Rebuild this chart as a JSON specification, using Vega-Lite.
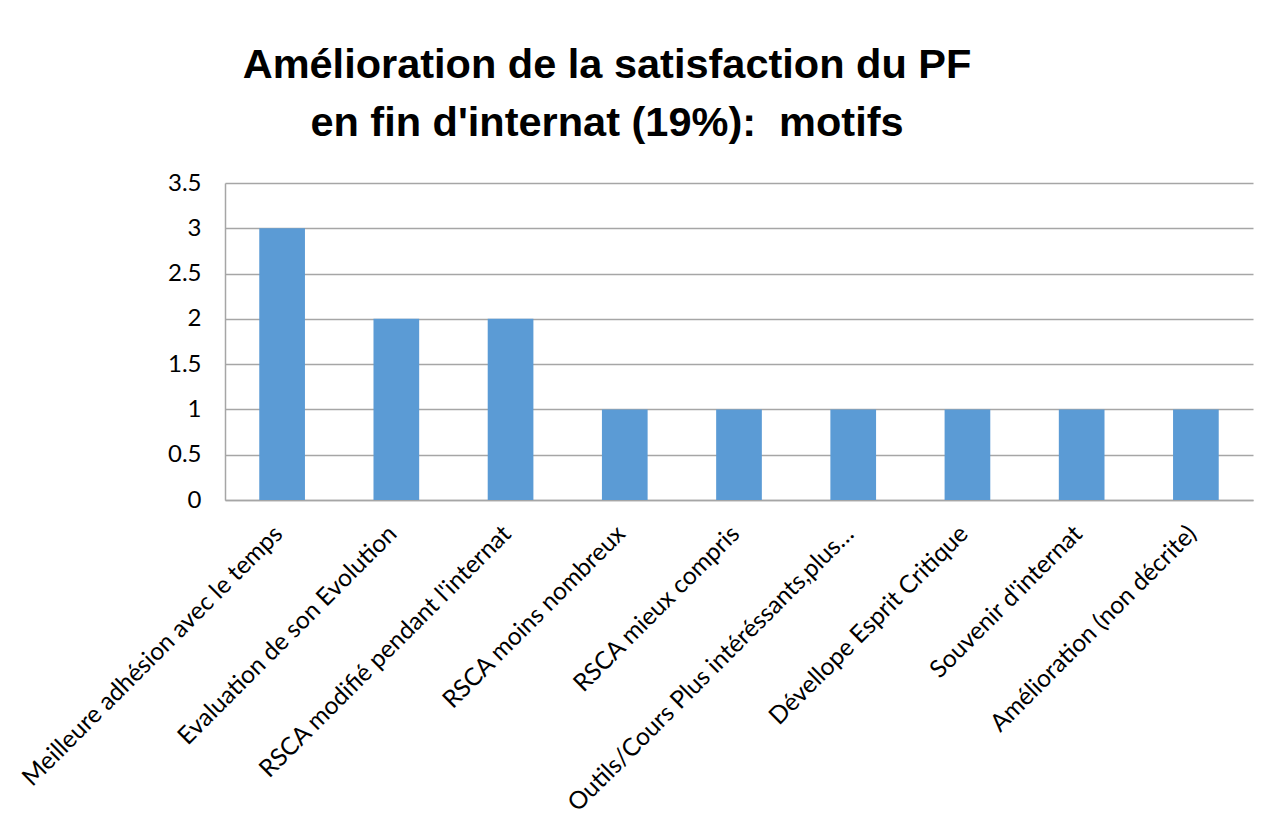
{
  "$schema": "https://vega.github.io/schema/vega-lite/v6.json",
  "width": 1028,
  "height": 317,
  "autosize": {"type": "none"},
  "padding": {"left": 225, "top": 183, "right": 19, "bottom": 316},
  "background": "white",
  "title": {
    "text": ["Amélioration de la satisfaction du PF", "en fin d'internat (19%):\u00a0 motifs"],
    "anchor": "middle",
    "dx": -132,
    "offset": -6,
    "baseline": "alphabetic",
    "font": "Liberation Sans",
    "fontSize": 41.5,
    "fontWeight": "bold",
    "lineHeight": 58,
    "color": "black"
  },
  "data": {
    "values": [
      {"motif": "Meilleure adhésion avec le temps", "n": 3},
      {"motif": "Evaluation de son Evolution", "n": 2},
      {"motif": "RSCA modifié pendant l'internat", "n": 2},
      {"motif": "RSCA moins nombreux", "n": 1},
      {"motif": "RSCA mieux compris", "n": 1},
      {"motif": "Outils/Cours Plus intéréssants,plus…", "n": 1},
      {"motif": "Dévellope Esprit Critique", "n": 1},
      {"motif": "Souvenir d'internat", "n": 1},
      {"motif": "Amélioration (non décrite)", "n": 1}
    ]
  },
  "mark": {"type": "bar", "color": "#5B9BD5"},
  "encoding": {
    "x": {
      "field": "motif",
      "type": "nominal",
      "sort": null,
      "title": null,
      "scale": {"paddingInner": 0.6, "paddingOuter": 0.3},
      "axis": {
        "labelAngle": -45,
        "labelAlign": "right",
        "labelBaseline": "middle",
        "labelFont": "Lato",
        "labelFontSize": 24.5,
        "labelColor": "black",
        "labelPadding": 30,
        "labelOffset": -3,
        "labelLimit": 600,
        "ticks": false,
        "domainColor": "#A6A6A6",
        "domainWidth": 1.5,
        "grid": false
      }
    },
    "y": {
      "field": "n",
      "type": "quantitative",
      "title": null,
      "scale": {"domain": [0, 3.5], "nice": false},
      "axis": {
        "values": [0, 0.5, 1, 1.5, 2, 2.5, 3, 3.5],
        "format": "~g",
        "labelFont": "Lato",
        "labelFontSize": 24,
        "labelColor": "black",
        "labelPadding": 24,
        "ticks": false,
        "domain": true,
        "domainColor": "#A6A6A6",
        "domainWidth": 1.5,
        "grid": true,
        "gridColor": "#A6A6A6",
        "gridWidth": 1.5
      }
    }
  },
  "config": {"view": {"stroke": null}}
}
